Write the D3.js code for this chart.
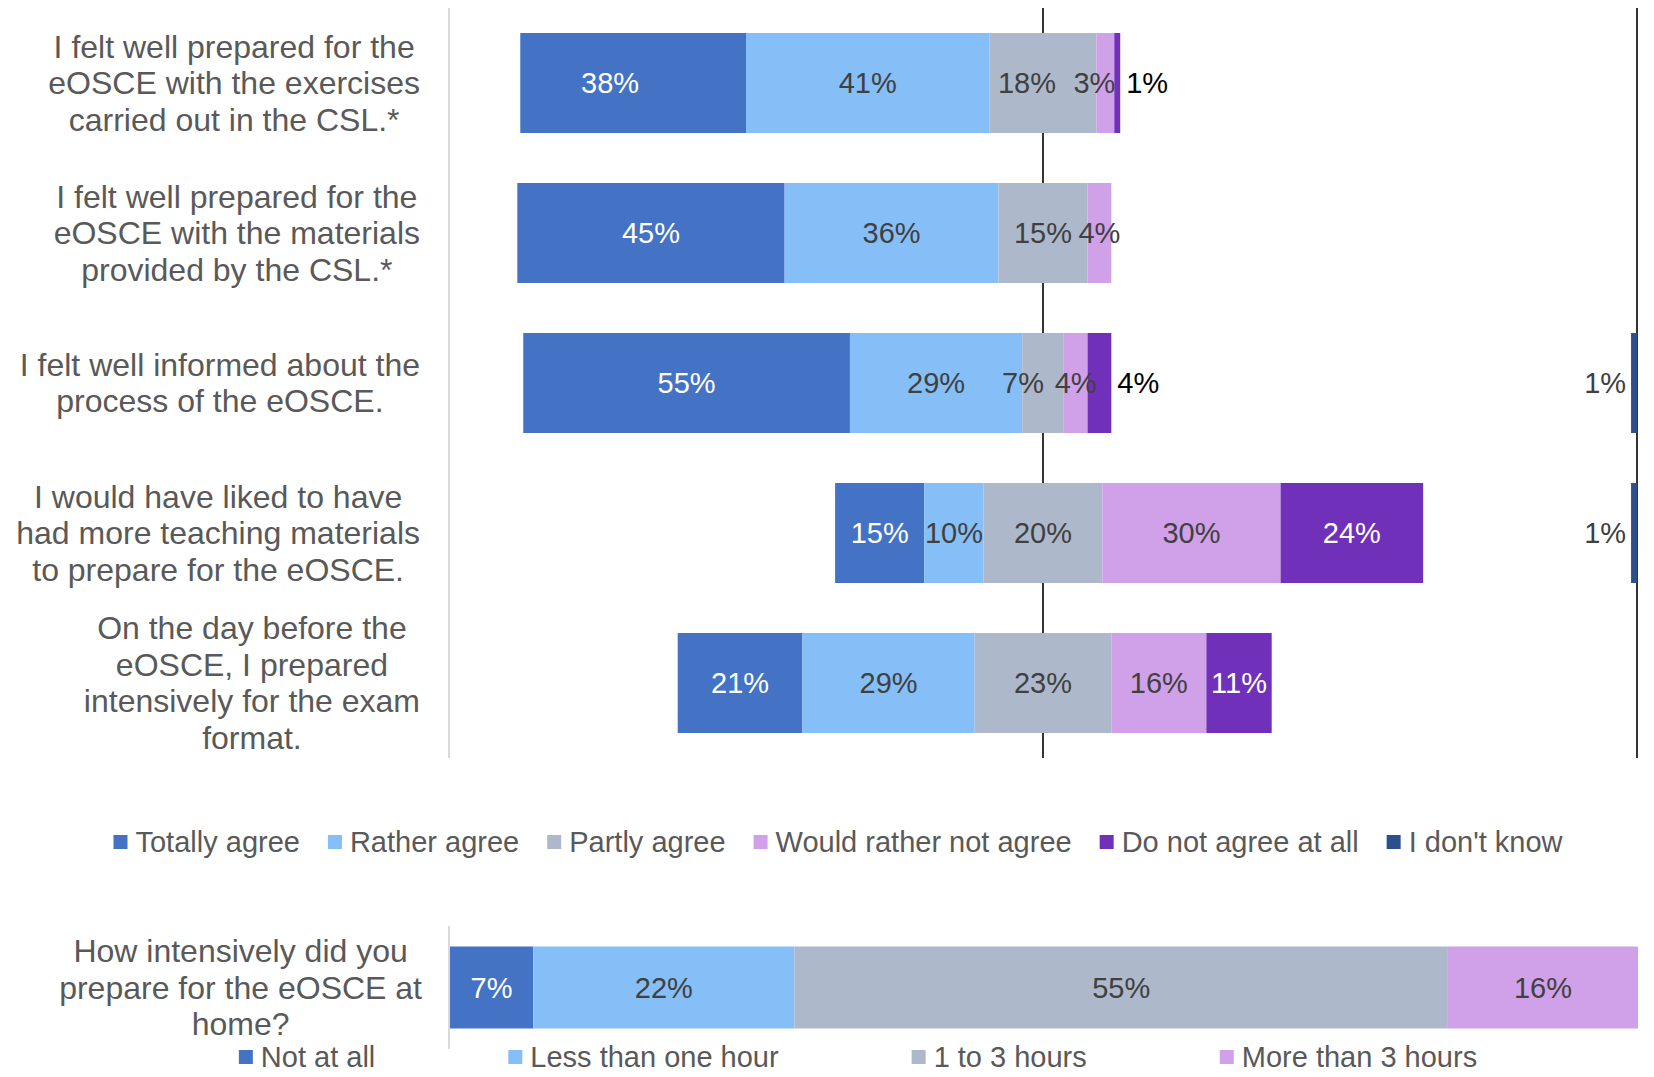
<!DOCTYPE html>
<html>
<head>
<meta charset="utf-8">
<script src="https://cdn.jsdelivr.net/npm/d3@7"></script>
<style>
  body { margin: 0; background: #fff; }
  svg { display: block; font-family: "Liberation Sans", Arial, sans-serif; }
</style>
</head>
<body>
<svg></svg>
<script>
// statements, wrapped like in the original figure
const statements = [
    ["I felt well prepared for the", "eOSCE with the exercises", "carried out in the CSL.*"],
    ["I felt well prepared for the", "eOSCE with the materials", "provided by the CSL.*"],
    ["I felt well informed about the", "process of the eOSCE."],
    ["I would have liked to have", "had more teaching materials", "to prepare for the eOSCE."],
    ["On the day before the", "eOSCE, I prepared", "intensively for the exam", "format."]
];
const agreeSeries = ["Totally agree", "Rather agree", "Partly agree", "Would rather not agree", "Do not agree at all", "I don't know"];
const totallyAgree = [38, 45, 55, 15, 21];
const ratherAgree = [41, 36, 29, 10, 29];
const partlyAgree = [18, 15, 7, 20, 23];
const ratherNotAgree = [3, 4, 4, 30, 16];
const notAgreeAtAll = [1, 0, 4, 24, 11];
const dontKnow = [0, 0, 1, 1, 0];

const homeQuestion = ["How intensively did you", "prepare for the eOSCE at", "home?"];
const homeSeries = ["Not at all", "Less than one hour", "1 to 3 hours", "More than 3 hours"];
const homeValues = [7, 22, 55, 16];

const palette = ["#4472C4", "#86BFF7", "#ADB9CA", "#D0A0E9", "#7030B9", "#2E4F8E"];
const color = d3.scaleOrdinal().domain(agreeSeries).range(palette);
const homeColor = d3.scaleOrdinal().domain(homeSeries).range(palette.slice(0, 4));
const darkFill = new Set([palette[0], palette[4], palette[5]]);

const FONT = 29;      // data labels and legends
const CAT_FONT = 32;  // question texts
const LINE = 36.5;

const svg = d3.select("svg")
    .attr("width", 1654)
    .attr("height", 1077);

// ---- top chart: diverging around the middle of "Partly agree"
const x = d3.scaleLinear()
    .domain([-100, 100])
    .range([449, 1637]);

const y = d3.scaleBand()
    .domain(d3.range(statements.length))
    .range([8, 758])
    .paddingInner(1 / 3)
    .paddingOuter(1 / 6);

const scaleSeries = [totallyAgree, ratherAgree, partlyAgree, ratherNotAgree, notAgreeAtAll];

const segments = [];
statements.forEach((s, i) => {
    let pos = -(totallyAgree[i] + ratherAgree[i] + partlyAgree[i] / 2);
    scaleSeries.forEach((vals, k) => {
        segments.push({ row: i, k: k, name: agreeSeries[k], x0: pos, x1: pos + vals[i], value: vals[i] });
        pos += vals[i];
    });
    if (dontKnow[i] > 0)
        segments.push({ row: i, k: 5, name: agreeSeries[5], x0: 100 - dontKnow[i], x1: 100, value: dontKnow[i] });
});

// reference lines behind the bars
svg.append("g")
    .selectAll("line")
    .data([0, 100])
    .enter()
    .append("line")
    .attr("x1", d => x(d))
    .attr("x2", d => x(d))
    .attr("y1", y.range()[0])
    .attr("y2", y.range()[1])
    .attr("stroke", "#000")
    .attr("stroke-width", 1.6);

// category axis line
svg.append("line")
    .attr("x1", x(-100)).attr("x2", x(-100))
    .attr("y1", y.range()[0]).attr("y2", y.range()[1])
    .attr("stroke", "#d9d9d9")
    .attr("stroke-width", 2);

svg.append("g")
    .selectAll("rect")
    .data(segments.filter(d => d.value > 0))
    .enter()
    .append("rect")
    .attr("x", d => x(d.x0))
    .attr("width", d => x(d.x1) - x(d.x0))
    .attr("y", d => y(d.row))
    .attr("height", y.bandwidth())
    .attr("fill", d => color(d.name));

// label nudges copied from the figure (labels were moved by hand there)
const nudge = { "0-0": -23, "0-2": -16, "0-3": -11, "2-2": -20 };

const labels = svg.append("g")
    .attr("font-size", FONT)
    .selectAll("text")
    .data(segments.filter(d => d.value > 0))
    .enter()
    .append("text")
    .attr("dy", "0.35em")
    .attr("y", d => y(d.row) + y.bandwidth() / 2)
    .text(d => d.value + "%");

labels.each(function (d) {
    const t = d3.select(this);
    if (d.k === 5) {
        // "I don't know" label sits left of its bar
        t.attr("x", x(d.x0) - 5).attr("text-anchor", "end").attr("fill", "#404040");
    } else if (d.k === 4 && d.value <= 4) {
        t.attr("x", x(d.x1) + 6).attr("text-anchor", "start").attr("fill", "#000");
    } else {
        const c = (x(d.x0) + x(d.x1)) / 2 + (nudge[d.row + "-" + d.k] || 0);
        t.attr("x", c).attr("text-anchor", "middle")
            .attr("fill", darkFill.has(color(d.name)) ? "#fff" : "#404040");
    }
});

// wrapped, centred category text whose block is right aligned
function wrappedLabel(g, lines, right, cy) {
    const txt = g.append("text")
        .attr("font-size", CAT_FONT)
        .attr("fill", "#595959")
        .attr("text-anchor", "middle");
    const spans = txt.selectAll("tspan")
        .data(lines)
        .enter()
        .append("tspan")
        .attr("y", (d, i) => cy + (i - (lines.length - 1) / 2) * LINE)
        .attr("dy", "0.35em")
        .text(d => d);
    let maxW = 0;
    spans.each(function () { maxW = Math.max(maxW, this.getComputedTextLength()); });
    spans.attr("x", right - maxW / 2);
}

const catG = svg.append("g");
statements.forEach((lines, i) => wrappedLabel(catG, lines, 420, y(i) + y.bandwidth() / 2));

// ---- legends: marker + text, laid out in one row with a fixed gap
function flowLegend(names, fill, cx, cy, gap) {
    const g = svg.append("g").attr("font-size", FONT).attr("fill", "#595959");
    const items = g.selectAll("g")
        .data(names)
        .enter()
        .append("g");
    items.append("rect")
        .attr("width", 14).attr("height", 14)
        .attr("y", cy - 7)
        .attr("fill", d => fill(d));
    items.append("text")
        .attr("x", 22)
        .attr("y", cy)
        .attr("dy", "0.35em")
        .text(d => d);
    const widths = [];
    items.each(function () { widths.push(22 + d3.select(this).select("text").node().getComputedTextLength()); });
    const total = d3.sum(widths) + gap * (widths.length - 1);
    let pos = cx - total / 2;
    items.attr("transform", (d, i) => {
        const t = "translate(" + pos + ",0)";
        pos += widths[i] + gap;
        return t;
    });
}

flowLegend(agreeSeries, color, 838, 842, 28);

// ---- bottom chart
const x2 = d3.scaleLinear()
    .domain([0, 100])
    .range([450, 1638]);

const y2 = d3.scaleBand()
    .domain([0])
    .range([926, 1049])
    .padding(0.2);

const homeSegs = [];
let acc = 0;
homeValues.forEach((v, k) => {
    homeSegs.push({ name: homeSeries[k], x0: acc, x1: acc + v, value: v });
    acc += v;
});

svg.append("line")
    .attr("x1", x2(0) - 1).attr("x2", x2(0) - 1)
    .attr("y1", y2.range()[0]).attr("y2", y2.range()[1])
    .attr("stroke", "#d9d9d9")
    .attr("stroke-width", 2);

svg.append("g")
    .selectAll("rect")
    .data(homeSegs)
    .enter()
    .append("rect")
    .attr("x", d => x2(d.x0))
    .attr("width", d => x2(d.x1) - x2(d.x0))
    .attr("y", y2(0))
    .attr("height", y2.bandwidth())
    .attr("fill", d => homeColor(d.name));

svg.append("g")
    .attr("font-size", FONT)
    .attr("text-anchor", "middle")
    .selectAll("text")
    .data(homeSegs)
    .enter()
    .append("text")
    .attr("x", d => (x2(d.x0) + x2(d.x1)) / 2)
    .attr("y", y2(0) + y2.bandwidth() / 2)
    .attr("dy", "0.35em")
    .attr("fill", d => darkFill.has(homeColor(d.name)) ? "#fff" : "#404040")
    .text(d => d.value + "%");

wrappedLabel(svg.append("g"), homeQuestion, 422, y2(0) + y2.bandwidth() / 2);

flowLegend(homeSeries, homeColor, 858, 1057, 133);
</script>
</body>
</html>
